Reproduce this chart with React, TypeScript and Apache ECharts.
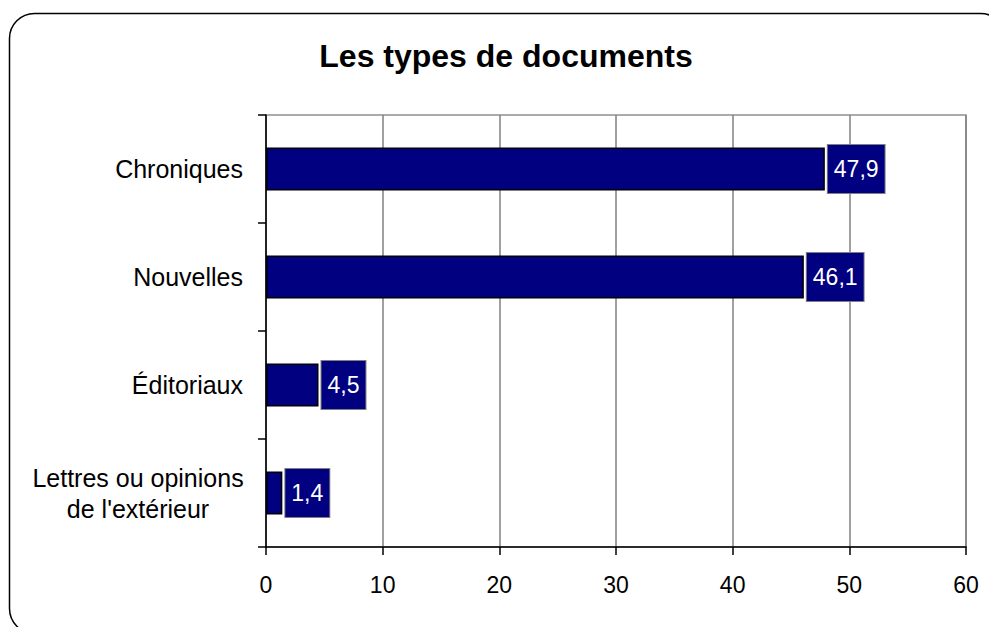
import React, { useEffect, useRef } from "react";
import * as echarts from "echarts";

const TITLE = "Les types de documents";
const CATEGORIES = [
  "Chroniques",
  "Nouvelles",
  "Éditoriaux",
  "Lettres ou opinions\nde l'extérieur",
];
const VALUES = [47.9, 46.1, 4.5, 1.4];
const X_MIN = 0;
const X_MAX = 60;
const X_INTERVAL = 10;

const FONT = "'Liberation Sans', Arial, Helvetica, sans-serif";

export default function App() {
  const ref = useRef<HTMLDivElement>(null);
  useEffect(() => {
    if (!ref.current) return;
    const chart = echarts.init(ref.current, undefined, { renderer: "svg" });
    chart.setOption({
      animation: false,
      backgroundColor: "#ffffff",
      textStyle: { fontFamily: FONT },
      title: {
        text: TITLE,
        left: 501,
        textAlign: "center",
        top: 35,
        textStyle: {
          fontFamily: FONT,
          fontSize: 32,
          fontWeight: "bold",
          color: "#000",
        },
      },
      graphic: [
        {
          type: "rect",
          shape: { x: 9.5, y: 13.5, width: 996, height: 620, r: 25 },
          style: { fill: "none", stroke: "#000", lineWidth: 1.5 },
          silent: true,
          z: 0,
        },
      ],
      grid: {
        left: 266,
        right: 23,
        top: 115,
        bottom: 80,
        show: true,
        borderColor: "#909090",
        borderWidth: 1.5,
        backgroundColor: "transparent",
      },
      xAxis: {
        type: "value",
        min: X_MIN,
        max: X_MAX,
        interval: X_INTERVAL,
        axisLine: { show: true, lineStyle: { color: "#000", width: 1.5 } },
        axisTick: { show: true, length: 8, lineStyle: { color: "#000", width: 1.5 } },
        axisLabel: {
          fontFamily: FONT,
          fontSize: 23,
          color: "#000",
          margin: 26,
        },
        splitLine: { show: true, lineStyle: { color: "#808080", width: 1.5 } },
      },
      yAxis: {
        type: "category",
        inverse: true,
        data: CATEGORIES,
        axisLine: { show: true, lineStyle: { color: "#000", width: 1.5 } },
        axisTick: { show: true, length: 8, lineStyle: { color: "#000", width: 1.5 } },
        axisLabel: {
          fontFamily: FONT,
          fontSize: 25,
          color: "#000",
          margin: 23,
          lineHeight: 31,
          align: "right",
          formatter: (v: string) =>
            v.indexOf("\n") >= 0
              ? v
                  .split("\n")
                  .map((l) => `{c|${l}}`)
                  .join("\n")
              : v,
          rich: {
            c: {
              fontFamily: FONT,
              fontSize: 25,
              color: "#000",
              lineHeight: 31,
              width: 210,
              align: "center",
            },
          },
        },
        splitLine: { show: false },
      },
      series: [
        {
          type: "bar",
          data: VALUES,
          barWidth: 43,
          itemStyle: { color: "#000080", borderColor: "#000", borderWidth: 1.5 },
          label: {
            show: true,
            position: "right",
            distance: 3,
            formatter: (p: any) => String(p.value).replace(".", ","),
            fontFamily: FONT,
            fontSize: 23,
            color: "#ffffff",
            backgroundColor: "#000080",
            borderColor: "#808080",
            borderWidth: 1,
            lineHeight: 24,
            padding: [12, 6, 12, 6],
          },
        },
      ],
    });
    return () => chart.dispose();
  }, []);
  return (
    <div
      ref={ref}
      style={{ position: "absolute", left: 0, top: 0, width: 989, height: 627 }}
    />
  );
}
